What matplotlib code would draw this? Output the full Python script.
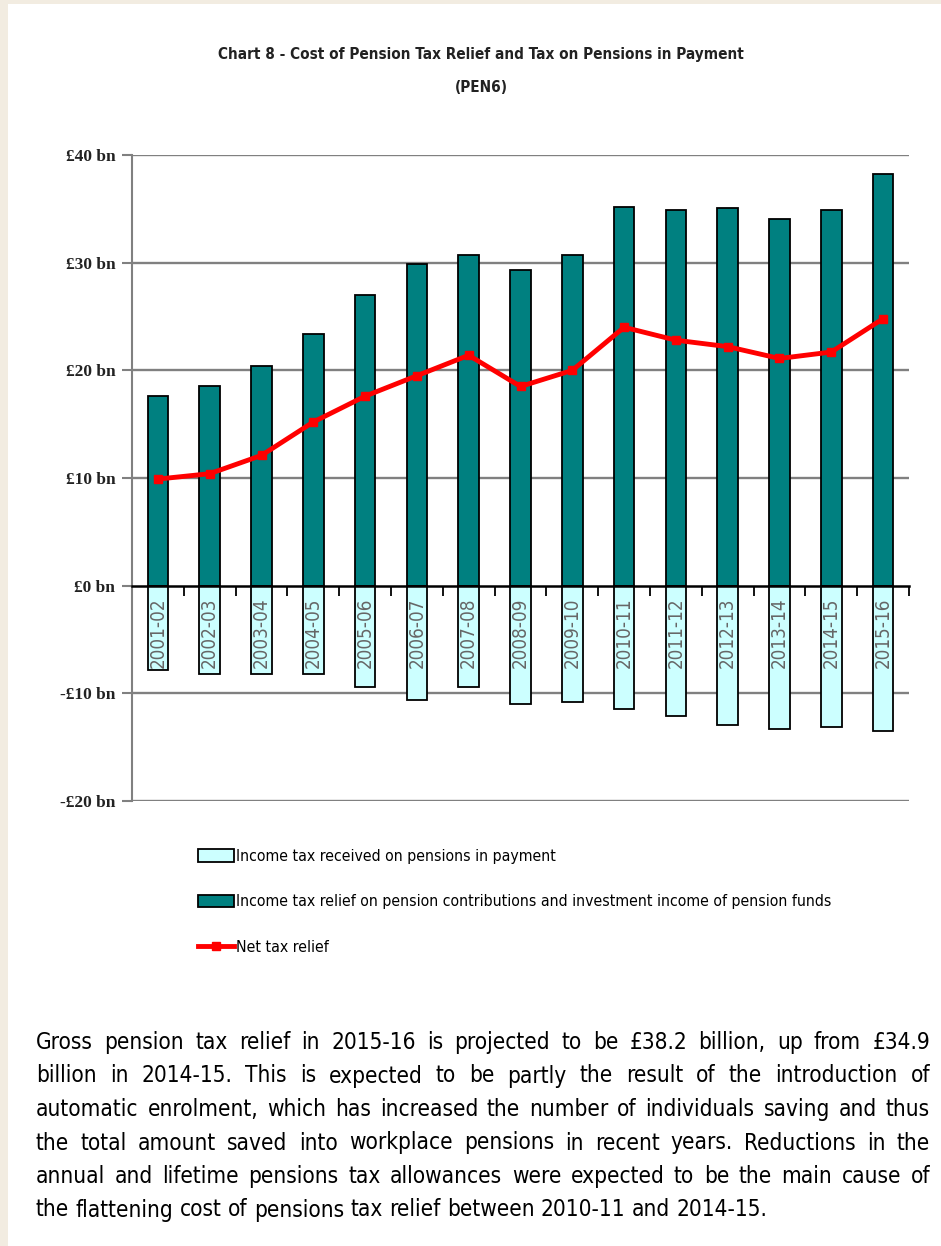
import matplotlib
matplotlib.use('Agg')
import matplotlib.pyplot as plt
from matplotlib import font_manager as fm
from matplotlib.patches import Rectangle, Patch
from matplotlib.lines import Line2D

# data (GBP bn)
years = ['2001-02', '2002-03', '2003-04', '2004-05', '2005-06', '2006-07', '2007-08',
         '2008-09', '2009-10', '2010-11', '2011-12', '2012-13', '2013-14', '2014-15', '2015-16']
relief = [17.6, 18.5, 20.4, 23.4, 27.0, 29.9, 30.7, 29.3, 30.7, 35.2, 34.9, 35.1, 34.1, 34.9, 38.2]
tax_received = [-7.8, -8.2, -8.2, -8.2, -9.4, -10.6, -9.4, -11.0, -10.8, -11.5, -12.1, -12.9, -13.3, -13.1, -13.5]
net_relief = [9.9, 10.4, 12.1, 15.2, 17.6, 19.5, 21.4, 18.5, 20.0, 24.0, 22.8, 22.2, 21.1, 21.7, 24.8]

ytick_vals = [40, 30, 20, 10, 0, -10, -20]
ytick_labels = ['£40 bn', '£30 bn', '£20 bn', '£10 bn', '£0 bn', '-£10 bn', '-£20 bn']

title1 = 'Chart 8 - Cost of Pension Tax Relief and Tax on Pensions in Payment'
title2 = '(PEN6)'
legend_labels = ['Income tax received on pensions in payment',
                 'Income tax relief on pension contributions and investment income of pension funds',
                 'Net tax relief']
para_lines = [
    'Gross pension tax relief in 2015-16 is projected to be £38.2 billion, up from £34.9',
    'billion in 2014-15. This is expected to be partly the result of the introduction of',
    'automatic enrolment, which has increased the number of individuals saving and thus',
    'the total amount saved into workplace pensions in recent years. Reductions in the',
    'annual and lifetime pensions tax allowances were expected to be the main cause of',
    'the flattening cost of pensions tax relief between 2010-11 and 2014-15.',
]


def wnum(w):
    if isinstance(w, str):
        return fm.weight_dict.get(w, 400)
    return w


def pick_font(weight=400):
    # look for an installed narrow / condensed sans face, else Liberation Sans
    cands = []
    for f in fm.fontManager.ttflist:
        nm = f.name.lower()
        st = str(f.stretch).lower()
        if 'mono' in nm or 'serif' in nm or f.style != 'normal':
            continue
        if 'narrow' in nm or 'condensed' in nm or st in ('condensed', 'semi-condensed', '500', '600'):
            cands.append(f)
    if cands:
        cands.sort(key=lambda f: abs(wnum(f.weight) - weight))
        return fm.FontProperties(fname=cands[0].fname)
    return fm.FontProperties(family=['Liberation Sans', 'DejaVu Sans'],
                             weight='bold' if weight >= 600 else 'normal')


f_norm = pick_font(400)
f_bold = pick_font(700)
SERIF = ['Liberation Serif', 'DejaVu Serif']

W, H = 941, 1246
fig = plt.figure(figsize=(W / 100, H / 100), dpi=100, facecolor='#f2ece1')
# white page on the beige background
fig.patches.append(Rectangle((8 / W, 0), 1 - 8 / W, 1 - 4 / H, transform=fig.transFigure,
                             facecolor='white', edgecolor='none', zorder=-5))

ax = fig.add_axes([132 / W, 1 - 801 / H, (909 - 132) / W, (801 - 155) / H])
ax.set_facecolor('none')

x = list(range(len(years)))
ax.bar(x, relief, width=0.4, color='#008080', edgecolor='black', linewidth=1.3, zorder=3)
ax.bar(x, tax_received, width=0.4, color='#ccffff', edgecolor='black', linewidth=1.3, zorder=3)
ax.plot(x, net_relief, color='#ff0000', linewidth=3.5, marker='s', markersize=6, zorder=5)

ax.set_xlim(-0.5, len(years) - 0.5)
ax.set_ylim(-20, 40)

for sp in ['top', 'right']:
    ax.spines[sp].set_visible(False)
ax.spines['left'].set_color('#808080')
ax.spines['left'].set_linewidth(1.5)
ax.spines['bottom'].set_position(('data', 0))
ax.spines['bottom'].set_color('black')
ax.spines['bottom'].set_linewidth(1.8)
ax.spines['bottom'].set_zorder(4)

ax.set_yticks(ytick_vals)
ax.set_yticklabels(ytick_labels, family=SERIF, fontsize=12.5, fontweight='bold', color='#222222')
ax.tick_params(axis='y', length=7, width=1.5, color='#808080', pad=5)
for v in ytick_vals:
    if v != 0:
        ax.axhline(v, color='#808080', linewidth=1.7, zorder=1)

# boundary ticks below the zero line
ax.set_xticks([i + 0.5 for i in x])
ax.set_xticklabels([])
ax.tick_params(axis='x', length=7, width=1.3, color='black', direction='out')

for i, yr in zip(x, years):
    ax.text(i, -1.1, yr, rotation=90, ha='center', va='top', fontproperties=f_norm,
            fontsize=13.5, color='#666666', zorder=6)

# titles
fig.text(481 / W, 1 - 55 / H, title1, ha='center', va='center', fontproperties=f_bold,
         fontsize=11, color='#222222')
fig.text(481 / W, 1 - 87 / H, title2, ha='center', va='center', fontproperties=f_bold,
         fontsize=11, color='#222222')

# legend
handles = [Patch(facecolor='#ccffff', edgecolor='black', linewidth=1.3),
           Patch(facecolor='#008080', edgecolor='black', linewidth=1.3),
           Line2D([], [], color='#ff0000', linewidth=3.5, marker='s', markersize=6)]
lprop = f_norm.copy()
lprop.set_size(11.3)
fig.legend(handles, legend_labels, loc='upper left', bbox_to_anchor=(190 / W, 1 - 841 / H),
           frameon=False, prop=lprop, handlelength=2.3, borderpad=0,
           handleheight=0.85, handletextpad=0.1, labelspacing=1.95)

# justified paragraph
left, right = 36, 930
y0, dy = 1049, 33.5
renderer = fig.canvas.get_renderer()


def text_w(s, size):
    t = fig.text(0, 0, s, fontproperties=f_norm, fontsize=size)
    w = t.get_window_extent(renderer).width
    t.remove()
    return w


natural = max(text_w(l, 20) for l in para_lines[:-1])
fs = min(21.5, 20 * (right - left) / natural * 0.97)
space_w = text_w('a a', fs) - text_w('aa', fs)

for li, line in enumerate(para_lines):
    words = line.split(' ')
    y = 1 - (y0 + li * dy) / H
    texts = [fig.text(0, y, w, fontproperties=f_norm, fontsize=fs, color='black',
                      va='baseline', ha='left') for w in words]
    widths = [t.get_window_extent(renderer).width for t in texts]
    if li < len(para_lines) - 1:
        gap = (right - left - sum(widths)) / (len(words) - 1)
    else:
        gap = space_w
    xpos = left
    for t, wdt in zip(texts, widths):
        t.set_x(xpos / W)
        xpos += wdt + gap

fig.savefig('out.png', dpi=100, facecolor=fig.get_facecolor())
